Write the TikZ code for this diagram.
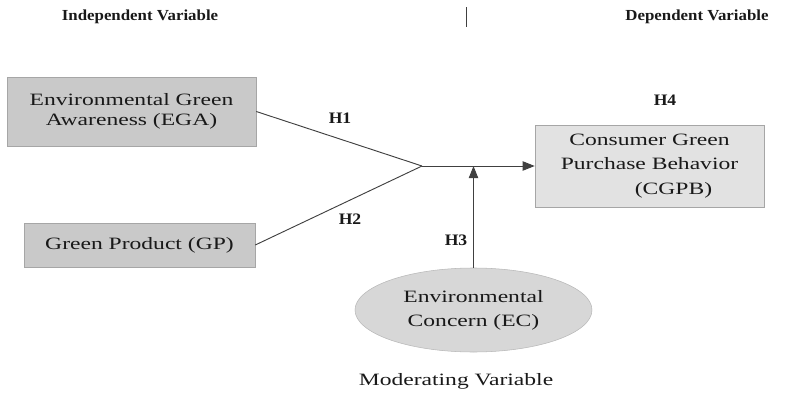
\documentclass[tikz,border=0pt]{standalone}
\usepackage{fontspec}
\setmainfont[FakeStretch=1.36]{Liberation Serif}
\newfontfamily\headfont[FakeStretch=1.1]{Liberation Serif}
\usetikzlibrary{shapes.geometric,arrows.meta}
\definecolor{boxgray}{HTML}{C9C9C9}
\definecolor{lightgray}{HTML}{E2E2E2}
\definecolor{edgegray}{HTML}{A6A6A6}
\tikzset{
  every node/.style={text=black!90, font=\fontsize{13}{15}\selectfont, inner sep=0pt},
  head/.style={font=\headfont\fontsize{11.5}{13}\selectfont\bfseries},
  ivbox/.style={draw=edgegray, fill=boxgray, align=center},
  dvbox/.style={draw=edgegray, fill=lightgray, align=center, font=\fontsize{13}{18.5}\selectfont},
  mvell/.style={ellipse, draw=edgegray!80, fill=lightgray!95!black, align=center, font=\fontsize{13}{18}\selectfont},
  link/.style={draw=black!75, line width=0.7pt},
  hyp/.style={font=\headfont\fontsize{12}{14}\selectfont\bfseries}
}

\begin{document}
\begin{tikzpicture}[x=0.75pt,y=-0.75pt]
       \useasboundingbox (0,0) rectangle (789,396);
       % headings
       \node[head] (indep) at (140,17) {Independent Variable};
       \node[head] (dep) at (697,17) {Dependent Variable};
       \coordinate (divtop) at (466,7);
       \coordinate (divbot) at (466,27);
       \draw[link] (divtop) -- (divbot);
       % variables
       \node[ivbox, minimum width=186.75pt, minimum height=51.75pt] (ega) at (131.5,111.5)
         {Environmental Green\\Awareness (EGA)};
       \node[ivbox, minimum width=173.25pt, minimum height=33pt] (gp) at (139.5,245)
         {Green Product (GP)};
       \node[dvbox, minimum width=171.75pt, minimum height=61.5pt] (cgpb) at (649.5,166)
         {Consumer Green\\Purchase Behavior\\\hspace*{36pt}(CGPB)};
       \node[mvell, minimum width=177.75pt, minimum height=63pt] (ec) at (473.5,310)
         {Environmental\\Concern (EC)};
       \node (modlabel) at (456,381) {Moderating Variable};
       % paths
       \coordinate (join) at (422,166);
       \coordinate (mod) at (473.5,166);
       \draw[link] (ega.east) -- (join);
       \draw[link] (gp.east) -- (join);
       \draw[link, -{Triangle[length=9pt, width=7pt]}] (join) -- (cgpb.west);
       \draw[link, -{Triangle[length=9pt, width=7pt]}] (ec.north) -- (mod);
       % hypotheses
       \node[hyp] (h1) at (340,118) {H1};
       \node[hyp] (h2) at (350,219) {H2};
       \node[hyp] (h3) at (456,240) {H3};
       \node[hyp] (h4) at (665,100) {H4};
\end{tikzpicture}
\end{document}
